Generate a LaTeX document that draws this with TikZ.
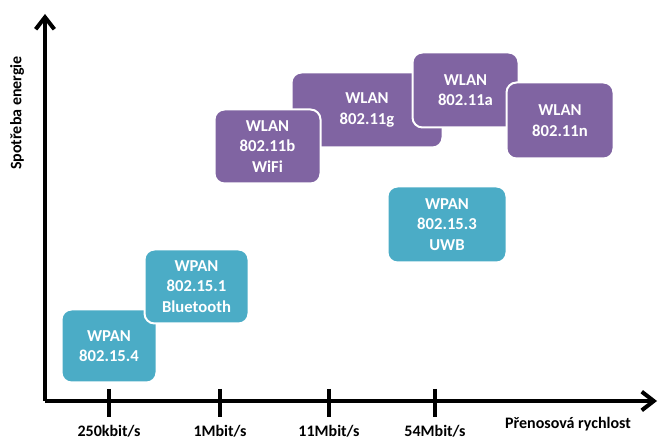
\documentclass[tikz,border=0pt]{standalone}
\usepackage{fontspec}
\setmainfont{Carlito}
\usetikzlibrary{arrows.meta}
\definecolor{wlanbg}{HTML}{8064A2}
\definecolor{wpanbg}{HTML}{4BACC6}

\begin{document}
\begin{tikzpicture}[x=0.75pt,y=-0.75pt,
axis/.style = {line width=3pt, -{Straight Barb[length=9pt,width=14pt,line width=3pt]}},
tickmark/.style = {line width=2.6pt},
ticklabel/.style = {anchor=base, inner sep=0pt, font=\fontsize{12}{14}\selectfont\bfseries},
axislabel/.style = {inner sep=0pt, font=\fontsize{12}{14}\selectfont\bfseries},
netbox/.style = {rounded corners=7.5pt, draw=white, line width=1.5pt, text=white,
  align=center, inner sep=0pt, font=\fontsize{12.5}{15.5}\selectfont\bfseries},
wlan/.style = {netbox, fill=wlanbg},
wpan/.style = {netbox, fill=wpanbg}
]
\useasboundingbox (0,0) rectangle (661,441);

% axes
\coordinate (origin) at (45,401);
\coordinate (ytop) at (45,14);
\coordinate (xend) at (657,401);
\draw [axis] (origin) -- (ytop);
\draw [axis] (origin) -- (xend);
\node [axislabel, rotate=90] (ylab) at (17,113) {Spotřeba energie};
\node [axislabel, anchor=base] (xlab) at (568,429) {Přenosová rychlost};

% ticks
\foreach \x/\name/\lab in {109/t1/{250kbit/s}, 220/t2/{1Mbit/s}, 329/t3/{11Mbit/s}, 435/t4/{54Mbit/s}} {
  \coordinate (\name up) at (\x,389);
  \coordinate (\name down) at (\x,417);
  \draw [tickmark] (\name up) -- (\name down);
  \node [ticklabel] (\name lab) at (\x,437) {\lab};
}

% WPAN
\node [wpan, minimum width=95pt*0.75, minimum height=73pt*0.75] (zigbee) at (109,346) {WPAN\\802.15.4};
\node [wpan, minimum width=104pt*0.75, minimum height=74pt*0.75] (bluetooth) at (196.5,286.5) {WPAN\\802.15.1\\Bluetooth};
\node [wpan, minimum width=119pt*0.75, minimum height=76pt*0.75] (uwb) at (447,224.5) {WPAN\\802.15.3\\UWB};

% WLAN
\node [wlan, minimum width=151pt*0.75, minimum height=75pt*0.75] (wlang) at (367,110) {WLAN\\802.11g};
\node [wlan, minimum width=106pt*0.75, minimum height=74pt*0.75] (wlanb) at (267.5,146.5) {WLAN\\802.11b\\WiFi};
\node [wlan, minimum width=106pt*0.75, minimum height=75pt*0.75] (wlana) at (465.5,90) {WLAN\\802.11a};
\node [wlan, minimum width=107pt*0.75, minimum height=76pt*0.75] (wlann) at (560,120.5) {WLAN\\802.11n};

\end{tikzpicture}
\end{document}
